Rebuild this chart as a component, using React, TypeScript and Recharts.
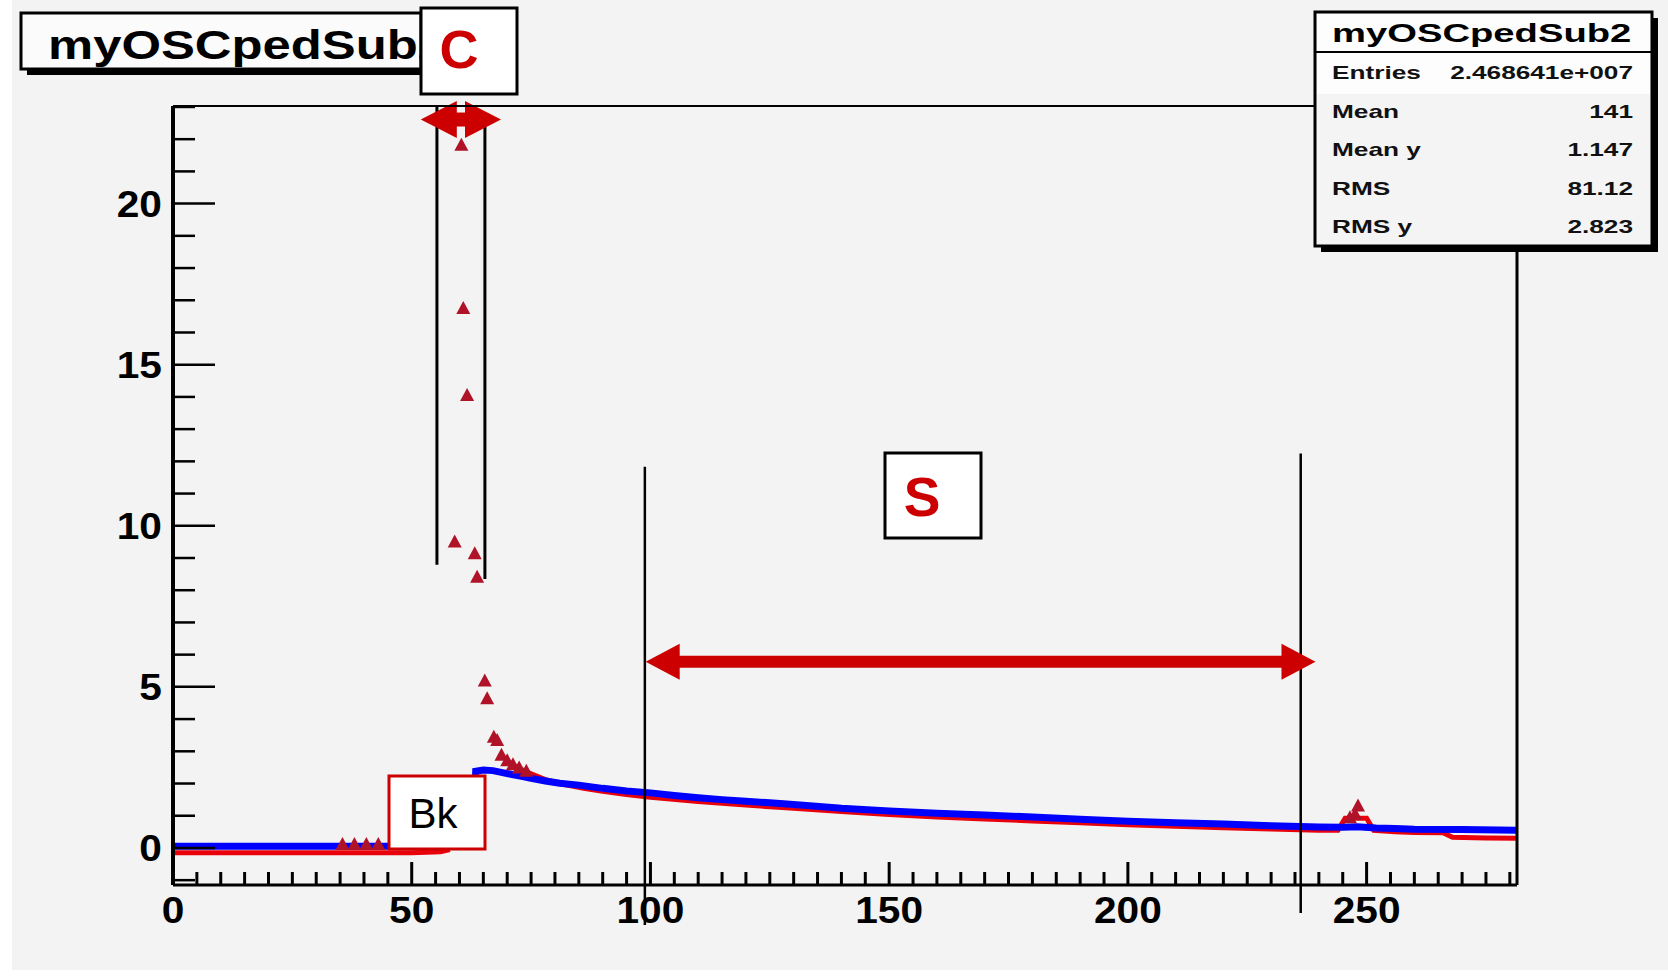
import React from "react";
import {
  ComposedChart,
  Line,
  Scatter,
  XAxis,
  YAxis,
  ReferenceLine,
} from "recharts";

const FONT = "'Liberation Sans', Arial, Helvetica, sans-serif";

// ---- data ----
const blueX = [0, 10, 20, 30, 40, 50, 58, 62.8, 63.4, 65, 67, 69, 71, 73, 75, 78, 81, 85, 90, 95, 100, 105, 110, 115, 120, 125, 130, 140, 150, 160, 170, 180, 190, 200, 210, 220, 230, 240, 245, 248, 252, 256, 260, 270, 281.5];
const blueY = [0.05, 0.05, 0.05, 0.05, 0.05, 0.05, 0.05, 0.08, 2.38, 2.42, 2.4, 2.34, 2.28, 2.22, 2.16, 2.08, 2.01, 1.95, 1.85, 1.77, 1.71, 1.63, 1.56, 1.5, 1.45, 1.4, 1.35, 1.23, 1.15, 1.08, 1.02, 0.96, 0.89, 0.83, 0.78, 0.74, 0.69, 0.65, 0.64, 0.66, 0.62, 0.6, 0.58, 0.57, 0.55];

const redX = [0, 10, 20, 30, 40, 50, 56, 58, 62, 69.5, 72, 75, 78, 82, 86, 90, 95, 100, 110, 120, 130, 140, 150, 160, 170, 180, 190, 200, 210, 220, 230, 240, 244, 245.5, 250, 251.5, 256, 260, 266, 268, 275, 281.5];
const redY: (number | null)[] = [-0.15, -0.15, -0.15, -0.15, -0.15, -0.15, -0.12, -0.05, null, 2.75, 2.5, 2.3, 2.12, 1.97, 1.85, 1.76, 1.66, 1.57, 1.44, 1.33, 1.23, 1.13, 1.04, 0.96, 0.9, 0.84, 0.78, 0.72, 0.67, 0.63, 0.59, 0.55, 0.55, 0.92, 0.92, 0.55, 0.5, 0.48, 0.47, 0.33, 0.31, 0.3];

const peakX = [35.5, 38, 40.5, 43, 59.0, 60.4, 60.8, 61.6, 63.2, 63.7, 65.3, 65.8, 67.2, 67.9, 68.8, 70.0, 71.2, 72.5, 74, 246.5, 247.6, 248.2];
const peakY = [0.12, 0.12, 0.12, 0.12, 9.51, 21.83, 16.76, 14.06, 9.15, 8.42, 5.2, 4.65, 3.45, 3.35, 2.89, 2.72, 2.6, 2.5, 2.4, 0.95, 1.05, 1.32];

const xTicks = [0, 5, 10, 15, 20, 25, 30, 35, 40, 45, 50, 55, 60, 65, 70, 75, 80, 85, 90, 95, 100, 105, 110, 115, 120, 125, 130, 135, 140, 145, 150, 155, 160, 165, 170, 175, 180, 185, 190, 195, 200, 205, 210, 215, 220, 225, 230, 235, 240, 245, 250, 255, 260, 265, 270, 275, 280];
const yTicks = [-1, 0, 1, 2, 3, 4, 5, 6, 7, 8, 9, 10, 11, 12, 13, 14, 15, 16, 17, 18, 19, 20, 21, 22, 23];

const statsTitle = "myOSCpedSub2";
const statsLabels = ["Entries", "Mean", "Mean y", "RMS", "RMS y"];
const statsValues = ["2.468641e+007", "141", "1.147", "81.12", "2.823"];

const blueData = blueX.map((x, i) => ({ x, y: blueY[i] }));
const redData = redX.map((x, i) => ({ x, y: redY[i] }));
const peakData = peakX.map((x, i) => ({ x, y: peakY[i] }));

// ---- ticks ----
function YTick(props: any) {
  const { x, y, payload } = props;
  const v = payload.value;
  const major = v % 5 === 0;
  return (
    <g>
      <line x1={x} x2={x + (major ? 42 : 22)} y1={y} y2={y} stroke="#000" strokeWidth={2.5} />
      {major && (
        <text
          transform={`translate(${x - 11},${y + 13}) scale(1.13,1)`}
          textAnchor="end"
          fontFamily={FONT}
          fontWeight="bold"
          fontSize={36}
          fill="#000"
        >
          {v}
        </text>
      )}
    </g>
  );
}

function XTick(props: any) {
  const { x, y, payload } = props;
  const v = payload.value;
  const major = v % 50 === 0;
  return (
    <g>
      <line x1={x} x2={x} y1={y} y2={y - (major ? 23 : 13)} stroke="#000" strokeWidth={3} />
      {major && (
        <text
          transform={`translate(${x},${y + 38}) scale(1.13,1)`}
          textAnchor="middle"
          fontFamily={FONT}
          fontWeight="bold"
          fontSize={36}
          fill="#000"
        >
          {v}
        </text>
      )}
    </g>
  );
}

function Triangle(props: any) {
  const { cx, cy } = props;
  if (cx == null || cy == null) return null;
  return (
    <polygon
      points={`${cx - 7},${cy + 6} ${cx + 7},${cy + 6} ${cx},${cy - 7}`}
      fill="#b01228"
    />
  );
}

function makeArrow(head: number, half: number, thick: number) {
  return (props: any) => {
    const { x1, y1, x2 } = props;
    const l = Math.min(x1, x2);
    const r = Math.max(x1, x2);
    const y = y1;
    return (
      <g>
        <rect x={l + head - 1} y={y - thick / 2} width={r - l - 2 * head + 2} height={thick} fill="#cc0000" />
        <polygon points={`${l},${y} ${l + head},${y - half} ${l + head},${y + half}`} fill="#cc0000" />
        <polygon points={`${r},${y} ${r - head},${y - half} ${r - head},${y + half}`} fill="#cc0000" />
      </g>
    );
  };
}

const W = 1668;
const H = 978;

export default function App() {
  return (
    <div style={{ position: "absolute", left: 0, top: 0, width: W, height: H, background: "#fff", overflow: "hidden" }}>
      <div style={{ position: "absolute", left: 12, top: 0, width: W - 12, height: 970, background: "#f3f3f3" }} />
      <div style={{ position: "absolute", left: 0, top: 0 }}>
        <ComposedChart
          width={W}
          height={H}
          margin={{ top: 106, right: 151, bottom: 33, left: 113 }}
        >
          <XAxis
            type="number"
            dataKey="x"
            domain={[0, 281.5]}
            allowDataOverflow
            ticks={xTicks}
            interval={0}
            height={60}
            tickSize={0}
            tickMargin={0}
            tickLine={false}
            axisLine={{ stroke: "#000", strokeWidth: 3 }}
            tick={<XTick />}
          />
          <YAxis
            type="number"
            dataKey="y"
            domain={[-1.15, 23.03]}
            allowDataOverflow
            ticks={yTicks}
            interval={0}
            width={60}
            tickSize={0}
            tickMargin={0}
            tickLine={false}
            axisLine={{ stroke: "#000", strokeWidth: 4 }}
            tick={<YTick />}
          />
          <Line
            data={redData}
            dataKey="y"
            type="linear"
            stroke="#e8000b"
            strokeWidth={5}
            dot={false}
            connectNulls={false}
            isAnimationActive={false}
          />
          <Line
            data={blueData}
            dataKey="y"
            type="linear"
            stroke="#0000ff"
            strokeWidth={7}
            dot={false}
            isAnimationActive={false}
          />
          <Scatter data={peakData} dataKey="y" shape={<Triangle />} isAnimationActive={false} />
          <ReferenceLine segment={[{ x: 55.28, y: 23.03 }, { x: 55.28, y: 8.79 }]} stroke="#000" strokeWidth={3} ifOverflow="visible" />
          <ReferenceLine segment={[{ x: 65.33, y: 22.61 }, { x: 65.33, y: 8.35 }]} stroke="#000" strokeWidth={3} ifOverflow="visible" />
          <ReferenceLine segment={[{ x: 98.83, y: 11.83 }, { x: 98.83, y: -2.39 }]} stroke="#000" strokeWidth={2.5} ifOverflow="visible" />
          <ReferenceLine segment={[{ x: 236.2, y: 12.24 }, { x: 236.2, y: -2.02 }]} stroke="#000" strokeWidth={2.5} ifOverflow="visible" />
          <ReferenceLine
            segment={[{ x: 99.0, y: 5.78 }, { x: 239.3, y: 5.78 }]}
            ifOverflow="visible"
            shape={makeArrow(34, 18, 12)}
          />
          <ReferenceLine
            segment={[{ x: 51.9, y: 22.61 }, { x: 68.7, y: 22.61 }]}
            ifOverflow="visible"
            shape={makeArrow(36, 18.5, 14)}
          />
        </ComposedChart>
      </div>
      <svg
        width={W}
        height={H}
        style={{ position: "absolute", left: 0, top: 0, pointerEvents: "none" }}
      >
        {/* frame top & right */}
        <line x1={173} x2={1316} y1={106} y2={106} stroke="#000" strokeWidth={2} />
        <line x1={1517} x2={1517} y1={106} y2={885} stroke="#000" strokeWidth={3} />

        {/* title box */}
        <rect x={27} y={19} width={394} height={56} fill="#000" />
        <rect x={21} y={13} width={400} height={56} fill="#fbfbfb" stroke="#000" strokeWidth={3} />
        <text transform="translate(48,59) scale(1.27,1)" fontFamily={FONT} fontWeight="bold" fontSize={40} fill="#000">
          {statsTitle}
        </text>

        {/* C box */}
        <rect x={421} y={8} width={96} height={86} fill="#fff" stroke="#000" strokeWidth={3} />
        <text x={459} y={68} textAnchor="middle" fontFamily={FONT} fontWeight="bold" fontSize={54} fill="#cc0000">C</text>

        {/* S box */}
        <rect x={885} y={453} width={96} height={85} fill="#fff" stroke="#000" strokeWidth={3} />
        <text x={922} y={516} textAnchor="middle" fontFamily={FONT} fontWeight="bold" fontSize={55} fill="#cc0000">S</text>

        {/* Bk box */}
        <rect x={389} y={776} width={96} height={73} fill="#fff" stroke="#cc0000" strokeWidth={3} />
        <text x={433} y={828} textAnchor="middle" fontFamily={FONT} fontSize={42} fill="#000">Bk</text>

        {/* stats box */}
        <rect x={1321} y={18} width={337} height={234} fill="#000" />
        <rect x={1315} y={12} width={337} height={234} fill="#f4f4f4" stroke="#000" strokeWidth={3} />
        <rect x={1317} y={14} width={333} height={80} fill="#fdfdfd" />
        <line x1={1315} x2={1652} y1={52} y2={52} stroke="#000" strokeWidth={2} />
        <text transform="translate(1332,42) scale(1.47,1)" fontFamily={FONT} fontWeight="bold" fontSize={26} fill="#000">
          {statsTitle}
        </text>
        {statsLabels.map((lab, i) => (
          <g key={lab}>
            <text transform={`translate(1332,${79 + i * 38.5}) scale(1.38,1)`} fontFamily={FONT} fontWeight="bold" fontSize={19} fill="#111">
              {lab}
            </text>
            <text transform={`translate(1633,${79 + i * 38.5}) scale(1.38,1)`} textAnchor="end" fontFamily={FONT} fontWeight="bold" fontSize={19} fill="#111">
              {statsValues[i]}
            </text>
          </g>
        ))}
      </svg>
    </div>
  );
}
